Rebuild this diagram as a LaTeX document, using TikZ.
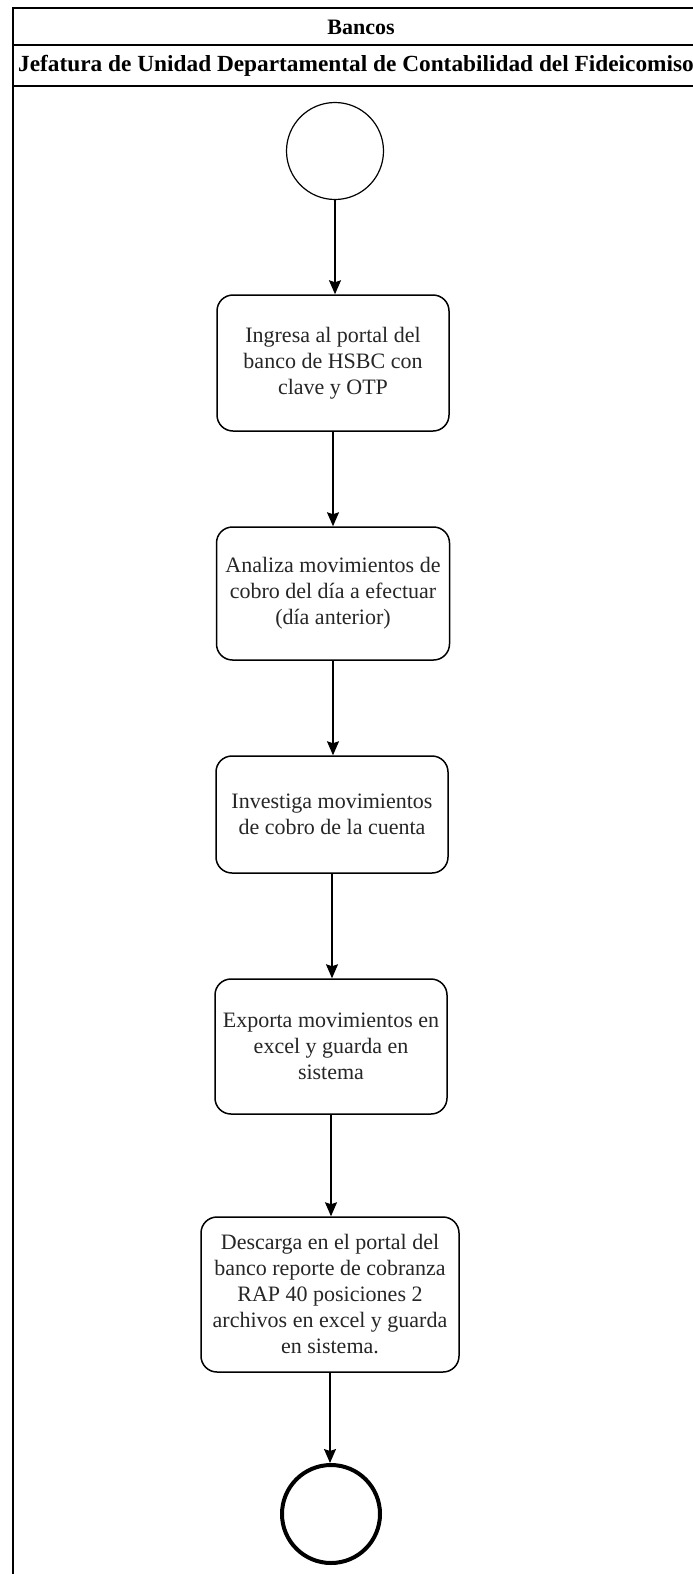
\documentclass[tikz,border=0pt]{standalone}
\usepackage{fontspec}
\setmainfont{Liberation Serif}
\usetikzlibrary{arrows.meta}
\begin{document}
\begin{tikzpicture}[x=1pt,y=-1pt,
  stepbox/.style={draw, line width=1.5pt, rounded corners=16pt, align=center, inner sep=0pt,
    font=\fontsize{22}{26}\selectfont, text=black!85},
  flow/.style={-{Stealth[length=14pt,width=12pt,inset=2pt]}, line width=1.5pt},
  frameline/.style={line width=1.6pt},
  headtext/.style={font=\bfseries\fontsize{22}{26}\selectfont, inner sep=0pt}]
\useasboundingbox (0,0) rectangle (693,1574);
\fill[white] (0,0) rectangle (693,1574);
% pool frame
\draw[frameline] (13,1580) -- (13,8) -- (700,8);
\draw[frameline] (13,45) -- (700,45);
\draw[frameline] (13,86) -- (700,86);
\node[headtext] (lane) at (361,27) {Bancos};
\node[headtext] (dept) at (356,66) {\scalebox{1.06}[1.05]{Jefatura de Unidad Departamental de Contabilidad del Fideicomiso}};
% flow
\node[draw, circle, line width=1.2pt, minimum size=97pt, inner sep=0pt] (start) at (335,151) {};
\node[stepbox, minimum width=232pt, minimum height=136pt] (b1) at (333,363)
  {Ingresa al portal del\\banco de HSBC con\\clave y OTP};
\node[stepbox, minimum width=233pt, minimum height=133pt] (b2) at (333,593.5)
  {Analiza movimientos de\\cobro del día a efectuar\\(día anterior)};
\node[stepbox, minimum width=232pt, minimum height=117pt] (b3) at (332,814.5)
  {Investiga movimientos\\de cobro de la cuenta};
\node[stepbox, minimum width=232pt, minimum height=135pt] (b4) at (331,1046.5)
  {Exporta movimientos en\\excel y guarda en\\sistema};
\node[stepbox, minimum width=258pt, minimum height=155pt] (b5) at (330,1294.5)
  {Descarga en el portal del\\banco reporte de cobranza\\RAP 40 posiciones 2\\archivos en excel y guarda\\en sistema.};
\node[draw, circle, line width=4pt, minimum size=98pt, inner sep=0pt] (end) at (331,1514) {};
\draw[flow] (start.south) -- (start.south |- b1.north);
\draw[flow] (b1.south) -- (b1.south |- b2.north);
\draw[flow] (b2.south) -- (b2.south |- b3.north);
\draw[flow] (b3.south) -- (b3.south |- b4.north);
\draw[flow] (b4.south) -- (b4.south |- b5.north);
\draw[flow] (b5.south) -- (b5.south |- end.north);
\end{tikzpicture}
\end{document}
